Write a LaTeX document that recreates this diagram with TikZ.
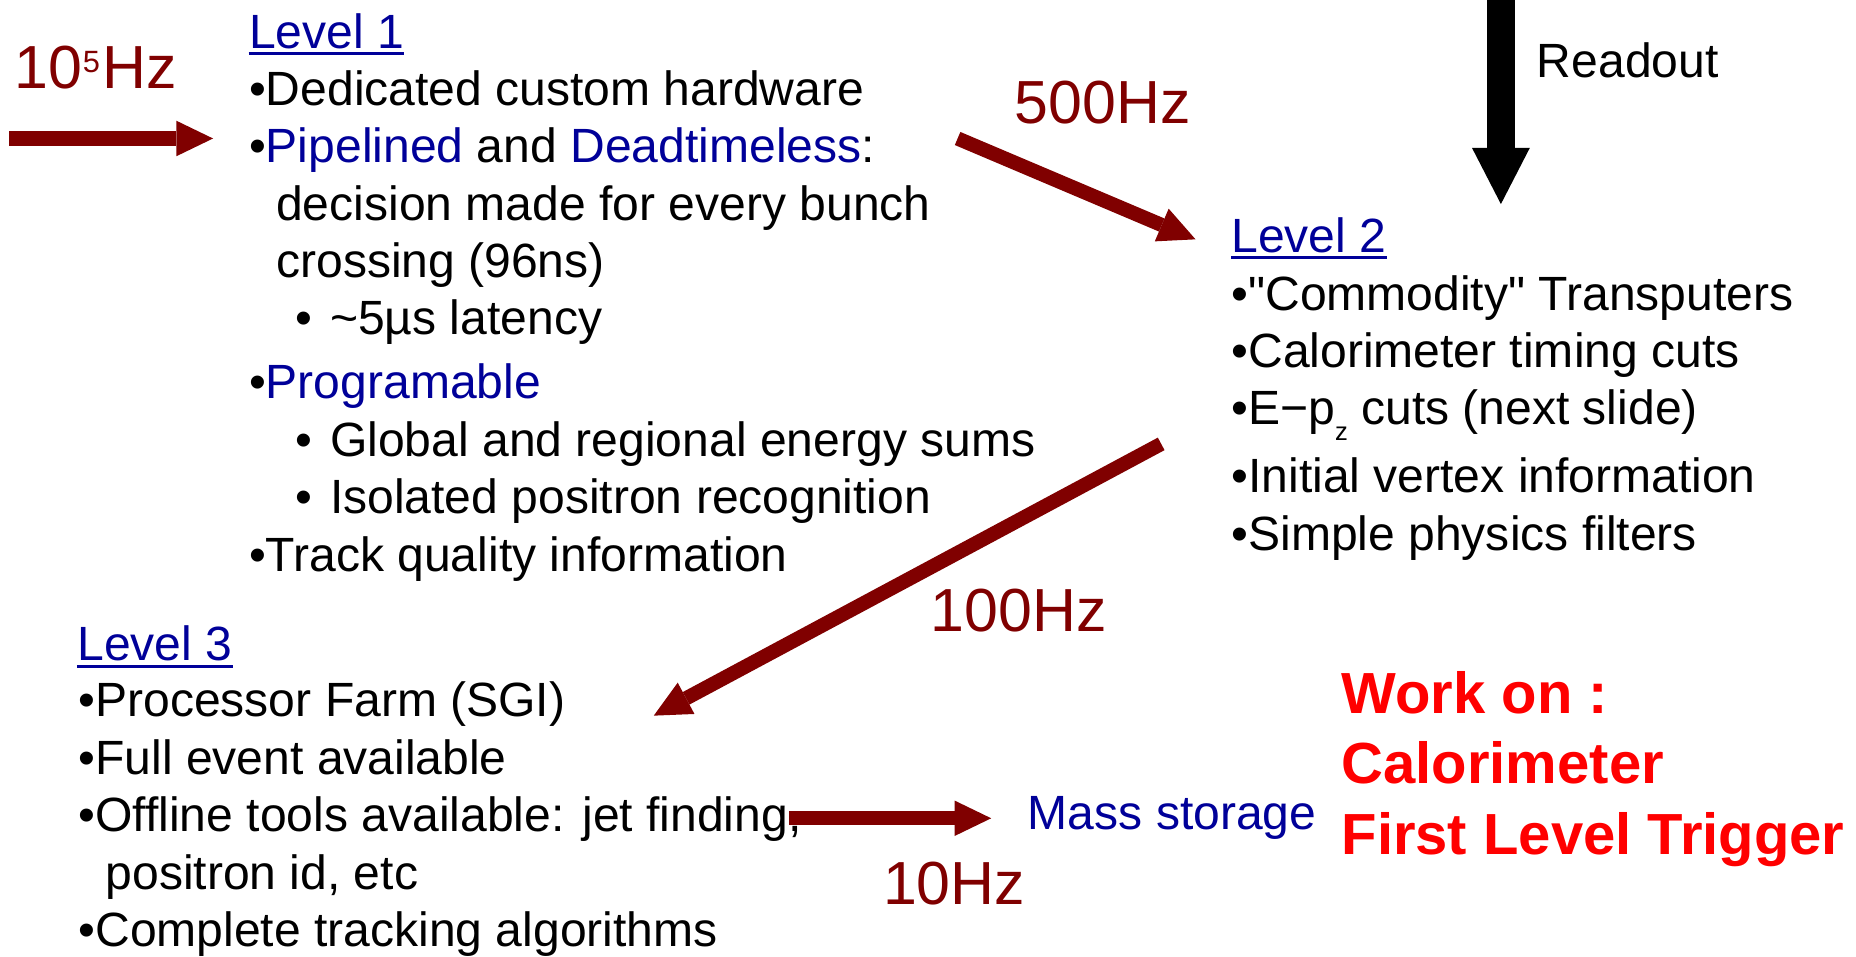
\documentclass[tikz,border=0pt]{standalone}
\usepackage{fontspec}
\setmainfont{Liberation Sans}[Ligatures=TeXOff]
\usetikzlibrary{arrows.meta}
\definecolor{dred}{RGB}{128,0,0}
\definecolor{lnavy}{RGB}{0,0,153}
\definecolor{wred}{RGB}{255,0,0}
\newcommand{\subbul}{\makebox[14.75pt][l]{•}}
\begin{document}
\begin{tikzpicture}[x=0.5pt,y=-0.5pt,
  txt/.style={anchor=base west, inner sep=0pt, font=\fontsize{20.3}{24}\selectfont},
  lvl/.style={txt, text=lnavy},
  rate/.style={anchor=base west, inner sep=0pt, text=dred, font=\fontsize{25.7}{30}\selectfont},
  hot/.style={anchor=base west, inner sep=0pt, text=wred, font=\fontsize{24.5}{29}\selectfont\bfseries},
  uline/.style={draw=lnavy, line width=1.4pt},
  flow/.style={draw=dred, line width=6pt, -{Triangle[length=15.5pt,width=15pt,line width=0pt]}},
  readarrow/.style={draw=black, line width=11.5pt, -{Triangle[length=23.7pt,width=24.4pt,line width=0pt]}}]
\useasboundingbox (0,0) rectangle (1568,808);

% ---- rate labels
\node[rate] (r5) at (12,75) {10\kern0.2pt\raisebox{6.8pt}{\fontsize{13}{13}\selectfont 5}\kern1.2pt Hz};
\node[rate] (r500) at (857,104) {500Hz};
\node[rate] (r100) at (786,533.6) {100Hz};
\node[rate] (r10) at (745.6,764.5) {10Hz};

% ---- Level 1
\node[lvl] (L1) at (210,40.8) {Level 1};
\draw[uline] ([yshift=-2.2pt]L1.base west) -- ([yshift=-2.2pt]L1.base east);
\node[txt] (a1) at (210,89.5) {•Dedicated custom hardware};
\node[txt] (a2) at (210,137.1) {•\textcolor{lnavy}{Pipelined} and \textcolor{lnavy}{Deadtimeless}:};
\node[txt] (a3) at (233,185.9) {decision made for every bunch};
\node[txt] (a4) at (233,234.6) {crossing (96ns)};
\node[txt] (a5) at (249,283) {\subbul\textasciitilde5µs latency};
\node[txt] (a6) at (210,336.5) {•\textcolor{lnavy}{Programable}};
\node[txt] (a7) at (249,385.8) {\subbul Global and regional energy sums};
\node[txt] (a8) at (249,433.7) {\subbul Isolated positron recognition};
\node[txt] (a9) at (210,483) {•Track quality information};

% ---- Level 2
\node[lvl] (L2) at (1040,213) {Level 2};
\draw[uline] ([yshift=-2.2pt]L2.base west) -- ([yshift=-2.2pt]L2.base east);
\node[txt] (b1) at (1040,262.7) {•"Commodity" Transputers};
\node[txt] (b2) at (1040,310.6) {•Calorimeter timing cuts};
\node[txt] (b3) at (1040,358.5) {•E−p\raisebox{-6.7pt}{\fontsize{10.8}{12}\selectfont z} cuts (next slide)};
\node[txt] (b4) at (1040,416) {•Initial vertex information};
\node[txt] (b5) at (1040,465) {•Simple physics filters};

% ---- Level 3
\node[lvl] (L3) at (65,558.4) {Level 3};
\draw[uline] ([yshift=-2.2pt]L3.base west) -- ([yshift=-2.2pt]L3.base east);
\node[txt] (c1) at (66,605.4) {•Processor Farm (SGI)};
\node[txt] (c2) at (66,654.7) {•Full event available};
\node[txt] (c3) at (66,702.6) {•Offline tools available: jet finding,};
\node[txt] (c4) at (88.8,751.3) {positron id, etc};
\node[txt] (c5) at (66,799.8) {•Complete tracking algorithms};

% ---- other labels
\node[txt] (ro) at (1298,65.6) {Readout};
\node[txt, text=lnavy] (ms) at (868,700.6) {Mass storage};
\node[hot] (w1) at (1133,603) {Work on :};
\node[hot] (w2) at (1133,662.3) {Calorimeter};
\node[hot] (w3) at (1133,721.5) {First Level Trigger};

% ---- arrow end points
\coordinate (inS) at (8,117);
\coordinate (inE) at (180,117);
\coordinate (s500) at (809,117);
\coordinate (e500) at (1010,202.2);
\coordinate (s100) at (981,375);
\coordinate (e100) at (552.3,604.6);
\coordinate (s10) at (666.7,691.3);
\coordinate (e10) at (837.4,691.3);
\coordinate (rdS) at (1268,0);
\coordinate (rdE) at (1268,172.4);

\draw[flow] (inS) -- (inE);
\draw[flow] (s500) -- (e500);
\draw[flow] (s100) -- (e100);
\draw[flow] (s10) -- (e10);
\draw[readarrow] (rdS) -- (rdE);
\end{tikzpicture}
\end{document}
